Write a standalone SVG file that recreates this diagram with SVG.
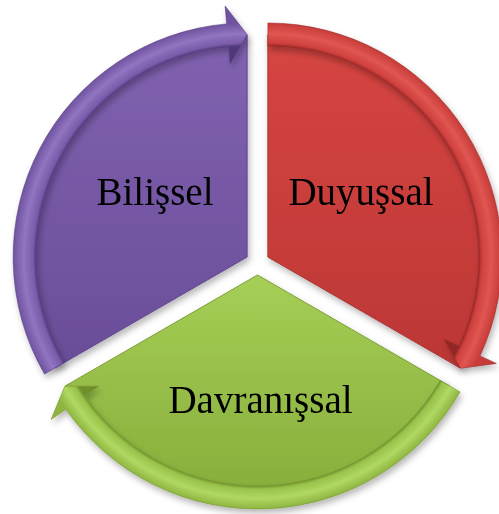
<svg xmlns="http://www.w3.org/2000/svg" width="499" height="514" viewBox="0 0 499 514">
<defs>
<style>
.lbl{font-family:"Liberation Serif","Times New Roman",serif;font-size:39px;fill:#000;text-anchor:middle}
.sh{filter:url(#shadow)}
</style>
<filter id="shadow" x="-10%" y="-10%" width="130%" height="130%">
<feDropShadow dx="2" dy="4" stdDeviation="3" flood-color="#000" flood-opacity="0.28"/>
</filter>
<linearGradient id="gP" x1="0" y1="0" x2="0" y2="1">
<stop offset="0" stop-color="#8162b1"/><stop offset="1" stop-color="#6a4d98"/>
</linearGradient>
<linearGradient id="gR" x1="0" y1="0" x2="0" y2="1">
<stop offset="0" stop-color="#d64542"/><stop offset="1" stop-color="#bc3735"/>
</linearGradient>
<linearGradient id="gG" x1="0" y1="0" x2="0" y2="1">
<stop offset="0" stop-color="#a5cf56"/><stop offset="1" stop-color="#88ad3b"/>
</linearGradient>
<radialGradient id="bP" gradientUnits="userSpaceOnUse" cx="247.1" cy="257" r="234">
<stop offset="0.90" stop-color="#4f3778"/><stop offset="0.915" stop-color="#7a5baa"/><stop offset="0.955" stop-color="#9175c1"/><stop offset="1" stop-color="#7053a0"/>
</radialGradient>
<radialGradient id="bR" gradientUnits="userSpaceOnUse" cx="267.9" cy="257" r="234">
<stop offset="0.90" stop-color="#922726"/><stop offset="0.915" stop-color="#cf403d"/><stop offset="0.955" stop-color="#e05652"/><stop offset="1" stop-color="#c73b38"/>
</radialGradient>
<radialGradient id="bG" gradientUnits="userSpaceOnUse" cx="257.5" cy="275" r="234">
<stop offset="0.90" stop-color="#6e8f2c"/><stop offset="0.915" stop-color="#98c24a"/><stop offset="0.955" stop-color="#b0d862"/><stop offset="1" stop-color="#8fb541"/>
</radialGradient>
</defs>

<g id="node-bilissel" class="sh">
<path d="M247.1 257 L247.1 35 A222 222 0 0 0 54.8 368 Z" fill="url(#gP)" stroke="#5f4490" stroke-width="1"/>
<text class="lbl" x="155" y="205">Bilişsel</text>
</g>

<g id="node-duyussal" class="sh">
<path d="M267.9 257 L267.9 35 A222 222 0 0 1 460.2 368 Z" fill="url(#gR)" stroke="#a83130" stroke-width="1"/>
<text class="lbl" x="361" y="205">Duyuşsal</text>
</g>

<g id="node-davranissal" class="sh">
<path d="M257.5 275 L449.8 386 A222 222 0 0 1 65.2 386 Z" fill="url(#gG)" stroke="#7d9f35" stroke-width="1"/>
<text class="lbl" x="260.5" y="413">Davranışsal</text>
</g>

<g id="connectors" class="sh">
<path id="arrow-bilissel" d="M44.5 374 A234 234 0 0 1 226.7 23.9 L225.1 6 L247.1 34.5 L230.2 63.7 L228.7 46.8 A211 211 0 0 0 64.4 362.5 Z" fill="url(#bP)" stroke="#553c80" stroke-width="0.6"/>
<path id="arrow-duyussal" d="M267.9 23 A234 234 0 0 1 480 355.9 L496.3 363.5 L460.6 368.25 L443.7 339 L459.1 346.2 A211 211 0 0 0 267.9 46 Z" fill="url(#bR)" stroke="#9b2b2a" stroke-width="0.6"/>
<path id="arrow-davranissal" d="M460.1 392 A234 234 0 0 1 65.8 409.2 L51.1 419.5 L64.8 386.25 L98.6 386.3 L84.6 396 A211 211 0 0 0 440.2 380.5 Z" fill="url(#bG)" stroke="#759630" stroke-width="0.6"/>
</g>
</svg>
